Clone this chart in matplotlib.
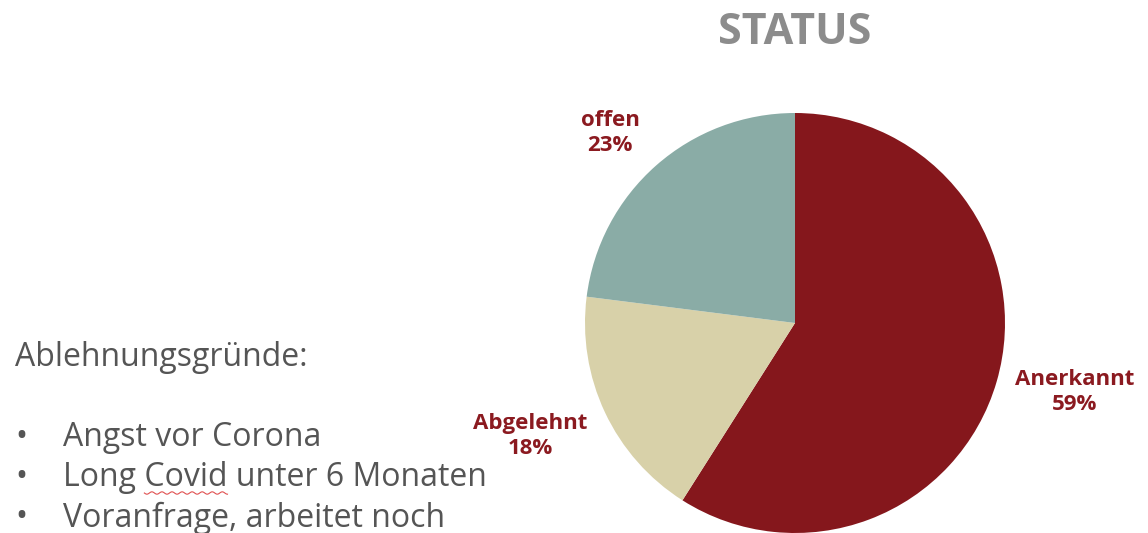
import numpy as np
import matplotlib
matplotlib.use("Agg")
import matplotlib.pyplot as plt

# Status shares (percent), clockwise from 12 o'clock
categories = ["Anerkannt", "Abgelehnt", "offen"]
shares = [59, 18, 23]
slice_colors = ["#85171c", "#d8d1a9", "#8aaca6"]

title_text = "STATUS"
reasons_heading = "Ablehnungsgründe:"
reasons = ["Angst vor Corona", "Long Covid unter 6 Monaten", "Voranfrage, arbeitet noch"]

W, H = 1148, 533
fig = plt.figure(figsize=(W / 100, H / 100), dpi=100)
fig.patch.set_facecolor("white")

# Pie axes: centre (795, 323) px, radius 210 px
cx, cy, r = 795, 323, 210
ax = fig.add_axes([(cx - r) / W, (H - cy - r) / H, 2 * r / W, 2 * r / H])
ax.pie(shares, colors=slice_colors, startangle=90, counterclock=False,
       radius=1.0, wedgeprops=dict(linewidth=0))
ax.set_xlim(-1, 1)
ax.set_ylim(-1, 1)
ax.set_aspect("equal")
ax.axis("off")

label_color = "#8b1a20"
label_pos = {"Anerkannt": (1.33, -0.33), "Abgelehnt": (-1.26, -0.54), "offen": (-0.88, 0.905)}
for name, val in zip(categories, shares):
    x, y = label_pos[name]
    ax.text(x, y, f"{name}\n{val}%", ha="center", va="center", color=label_color,
            fontsize=16, fontweight="bold", family="Open Sans", linespacing=1.25,
            clip_on=False)

fig.text(cx / W, 1 - 32 / H, title_text, ha="center", va="center", color="#8c8c8c",
         fontsize=31, fontweight="bold", family="Open Sans")

text_color = "#555555"
fs = 23
fig.text(15 / W, 1 - 357 / H, reasons_heading, ha="left", va="center",
         color=text_color, fontsize=fs, family="Open Sans")
ys = [438, 478, 518]
for yy, item in zip(ys, reasons):
    fig.text(15 / W, 1 - yy / H, "•", ha="left", va="center", color=text_color,
             fontsize=fs, family="Open Sans")
    fig.text(63 / W, 1 - yy / H, item, ha="left", va="center", color=text_color,
             fontsize=fs, family="Open Sans")

# spell-check squiggle under "Covid"
fig.canvas.draw()
renderer = fig.canvas.get_renderer()
def width_px(s):
    t = fig.text(0, 0, s, fontsize=fs, family="Open Sans")
    w = t.get_window_extent(renderer).width
    t.remove()
    return w
x0 = 63 + width_px("Long ")
x1 = 63 + width_px("Long Covid")
xs = np.linspace(x0, x1, 80)
wave_y = 493 + 1.2 * np.sin((xs - x0) / 1.6)
fig.add_artist(plt.Line2D(xs / W, 1 - wave_y / H, color="#e05050", lw=0.8,
                          transform=fig.transFigure))

fig.savefig("out.png", dpi=100, facecolor="white")
